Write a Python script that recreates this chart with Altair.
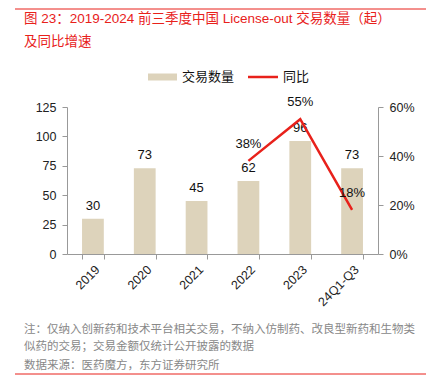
import altair as alt
import pandas as pd

categories = ["2019", "2020", "2021", "2022", "2023", "24Q1-Q3"]
deals = [30, 73, 45, 62, 96, 73]
yoy_cats = ["2022", "2023", "24Q1-Q3"]
yoy = [0.38, 0.55, 0.18]
yoy_labels = ["38%", "55%", "18%"]
left_ticks = [0, 25, 50, 75, 100, 125]
right_ticks = [0, 0.2, 0.4, 0.6]

title1 = "图 23：2019-2024 前三季度中国 License-out 交易数量（起）"
title2 = "及同比增速"
note1 = "注：仅纳入创新药和技术平台相关交易，不纳入仿制药、改良型新药和生物类"
note2 = "似药的交易；交易金额仅统计公开披露的数据"
note3 = "数据来源：医药魔方，东方证券研究所"
legend_labels = ["交易数量", "同比"]

FONT = "Liberation Sans, Noto Sans CJK SC, sans-serif"
CJK = "Liberation Sans, Noto Sans CJK SC, sans-serif"
BAR = "#ddd3bb"
RED = "#e8211b"
W, H = 311, 147

bars_df = pd.DataFrame({"cat": categories, "n": deals})
line_df = pd.DataFrame({"cat": yoy_cats, "v": yoy, "lab": yoy_labels})

x_axis = alt.Axis(labelAngle=-45, labelFont=FONT, labelFontSize=12.5,
                  labelColor="#222", tickBand="extent", tickSize=5,
                  tickColor="#999", domainColor="#999", labelPadding=4,
                  labelOverlap=False)
x_scale = alt.Scale(paddingInner=0.58, paddingOuter=0.29)
yl_axis = alt.Axis(values=left_ticks, grid=False, labelFont=FONT,
                   labelFontSize=12.5, labelColor="#222", tickSize=5,
                   tickColor="#999", domainColor="#999", labelPadding=6,
                   labelOverlap=False)
yr_axis = alt.Axis(orient="right", values=right_ticks, format=".0%", grid=False,
                   labelFont=FONT, labelFontSize=12.5, labelColor="#222",
                   tickSize=5, tickColor="#999", domainColor="#999",
                   labelPadding=6, labelOverlap=False)
yl_scale = alt.Scale(domain=[0, 125])
yr_scale = alt.Scale(domain=[0, 0.6])

def X():
    return alt.X("cat:N", sort=categories, title=None, scale=x_scale, axis=x_axis)

bars = alt.Chart(bars_df).mark_bar(color=BAR).encode(
    x=X(), y=alt.Y("n:Q", title=None, scale=yl_scale, axis=yl_axis))
bar_text = alt.Chart(bars_df).mark_text(font=FONT, fontSize=13, color="#111",
                                        baseline="middle", dy=-13).encode(
    x=X(), y=alt.Y("n:Q", title=None, scale=yl_scale, axis=yl_axis), text="n:Q")
left = alt.layer(bars, bar_text)

line = alt.Chart(line_df).mark_line(color=RED, strokeWidth=2.5).encode(
    x=X(), y=alt.Y("v:Q", title=None, scale=yr_scale, axis=yr_axis))
line_text = alt.Chart(line_df).mark_text(font=FONT, fontSize=13, color="#111",
                                         baseline="middle", dy=-17).encode(
    x=X(), y=alt.Y("v:Q", title=None, scale=yr_scale, axis=yr_axis), text="lab:N")
right = alt.layer(line, line_text)

# decorations
def txt(s, x, y, color, size, font=CJK, weight="normal"):
    return alt.Chart(pd.DataFrame({"t": [s]})).mark_text(
        align="left", baseline="middle", font=font, fontSize=size,
        color=color, fontWeight=weight).encode(
        x=alt.value(x), y=alt.value(y), text="t:N")

def hrule(x1, x2, y, color, sw):
    return alt.Chart(pd.DataFrame({"a": [0]})).mark_rule(color=color, strokeWidth=sw).encode(
        x=alt.value(x1), x2=alt.value(x2), y=alt.value(y))

deco = alt.layer(
    hrule(-52, 359, -98, RED, 1),
    hrule(-52, 359, 267, RED, 1),
    txt(title1, -43, -88, RED, 13.5),
    txt(title2, -43, -65, RED, 13.5),
    hrule(81, 110, -30, BAR, 7),
    txt(legend_labels[0], 115, -30, "#111", 13),
    hrule(181, 211, -30, RED, 2.5),
    txt(legend_labels[1], 216, -30, "#111", 13),
    txt(note1, -43, 223, "#888", 11.5),
    txt(note2, -43, 240, "#888", 11.5),
    txt(note3, -43, 259, "#888", 11.5),
)

chart = alt.layer(left, right, deco).resolve_scale(y="independent").properties(
    width=W, height=H,
    autosize=alt.AutoSizeParams(type="none"),
    padding={"left": 59, "top": 99, "right": 51, "bottom": 121},
).configure_view(stroke=None)

chart.save("out.html", embed_options={"renderer": "svg", "actions": False})
